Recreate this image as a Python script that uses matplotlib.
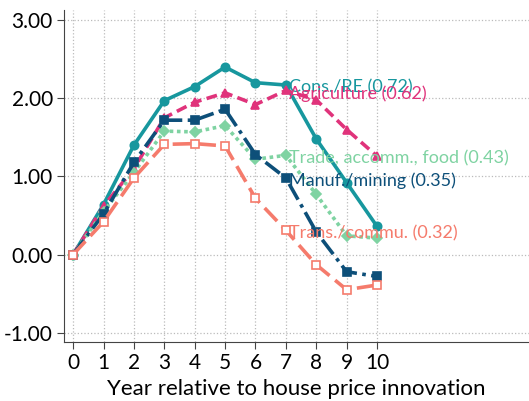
import numpy as np
import matplotlib.pyplot as plt

plt.rcParams['font.family'] = ['Lato', 'DejaVu Sans']

years = list(range(11))

cons_re = [0, 0.64, 1.40, 1.97, 2.15, 2.40, 2.20, 2.17, 1.48, 0.92, 0.36]
agriculture = [0, 0.62, 1.10, 1.75, 1.95, 2.07, 1.92, 2.10, 1.98, 1.60, 1.26]
trade = [0, 0.55, 1.05, 1.58, 1.57, 1.65, 1.22, 1.27, 0.77, 0.24, 0.21]
manuf = [0, 0.52, 1.18, 1.72, 1.72, 1.86, 1.28, 0.98, 0.29, -0.22, -0.28]
trans = [0, 0.42, 0.98, 1.41, 1.42, 1.39, 0.72, 0.31, -0.13, -0.45, -0.39]

names = ["Cons./RE (0.72)", "Agriculture (0.62)", "Trade, accomm., food (0.43)",
         "Manuf./mining (0.35)", "Trans./commu. (0.32)"]

fig = plt.figure(figsize=(5.29, 4.01), dpi=100)
ax = fig.add_axes([0.121, 0.147, 0.879, 0.828])

series = [
    (cons_re, '#17979e', '-', 'o', '#17979e'),
    (agriculture, '#e0337b', (0, (3, 1.5)), '^', '#e0337b'),
    (trade, '#7fd3a2', (0, (1, 1)), 'D', '#7fd3a2'),
    (manuf, '#0d4f79', (0, (5, 1.5, 1, 1.5)), 's', '#0d4f79'),
    (trans, '#f57b6c', (0, (5, 2)), 's', 'white'),
]

for (vals, col, ls, mk, mfc), name in zip(series, names):
    ms = 6 if mk != 'D' else 5
    ax.plot(years, vals, color=col, linestyle=ls, linewidth=2.6,
            marker=mk, markersize=ms, markerfacecolor=mfc,
            markeredgecolor=col, markeredgewidth=1.2)
    # label each series at its year-7 point
    ax.annotate(name, (years[7], vals[7]), xytext=(2, -2), textcoords='offset points',
                ha='left', va='center', color=col, fontsize=13)

ax.set_xlim(-0.3, 15)
ax.set_ylim(-1.12, 3.13)
ax.set_xticks(years)
ax.set_yticks([-1, 0, 1, 2, 3])
ax.set_yticklabels(['-1.00', '0.00', '1.00', '2.00', '3.00'])
ax.tick_params(labelsize=15, length=5, color='#444444', pad=3)
ax.grid(True, linestyle=':', color='#bbbbbb', linewidth=0.9)
ax.set_axisbelow(True)
for s in ['top', 'right']:
    ax.spines[s].set_visible(False)
for s in ['left', 'bottom']:
    ax.spines[s].set_color('#444444')
ax.set_xlabel('Year relative to house price innovation', fontsize=16, labelpad=4)

fig.savefig('out.png', dpi=100)
